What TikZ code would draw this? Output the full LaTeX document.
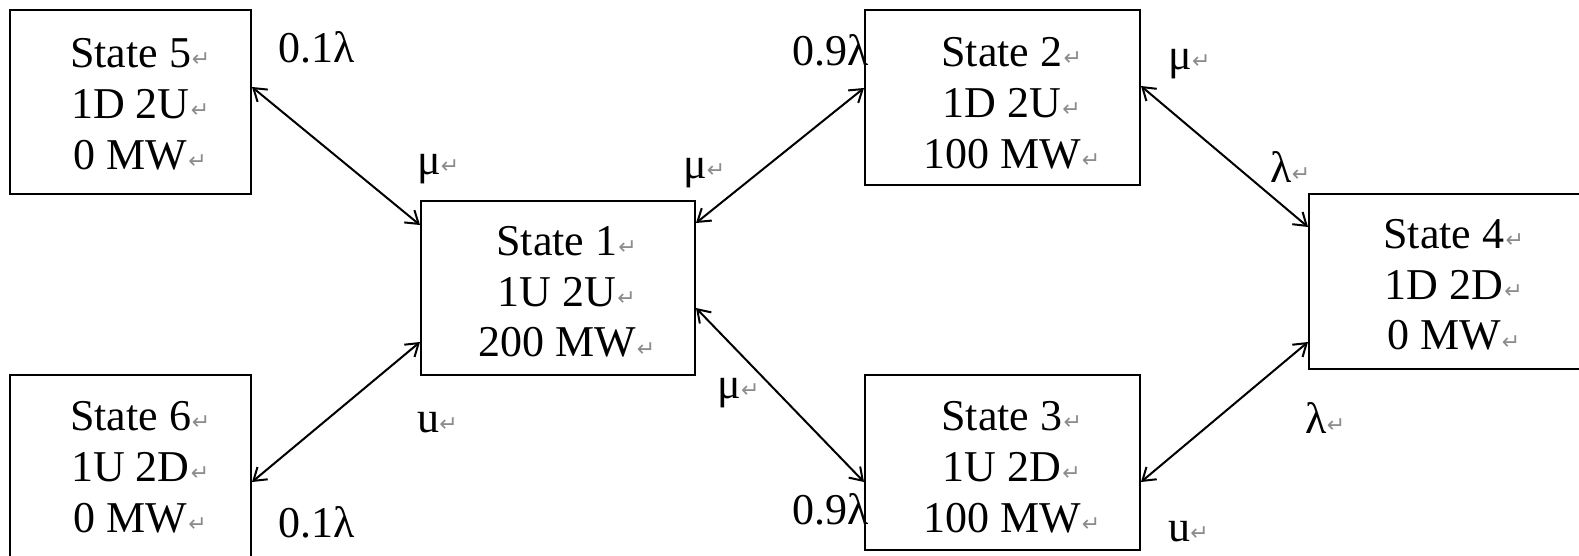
\documentclass[tikz,border=0pt]{standalone}
\usepackage{fontspec}
\setmainfont{Liberation Serif}
\newfontfamily\dvsans{DejaVu Sans}
\usetikzlibrary{arrows.meta}
\definecolor{retgray}{RGB}{140,140,140}
\newcommand\retm{{\dvsans\fontsize{11}{11}\selectfont\color{retgray}\raisebox{0.5pt}{↵}}}
\newcommand\lnm[1]{#1\rlap{\hspace{0.5pt}\retm}}
\newcommand\three[3]{\begin{tabular}[t]{@{}c@{}}\lnm{#1}\\\lnm{#2}\\\lnm{#3}\end{tabular}}
\tikzset{
  stbox/.style={draw, line width=1pt, inner sep=0pt, rectangle},
  sttext/.style={inner sep=0pt, anchor=base, font=\fontsize{22}{25.5}\selectfont},
  lbl/.style={inner sep=0pt, anchor=base west, font=\fontsize{22}{25.5}\selectfont},
  link/.style={line width=1pt, {Straight Barb[length=6pt,width=8pt]}-{Straight Barb[length=6pt,width=8pt]}}
}
\begin{document}
\begin{tikzpicture}[x=0.5pt,y=-0.5pt]
\useasboundingbox (0,0) rectangle (1579,556);
% boxes
\node[stbox, minimum width=120.5pt, minimum height=92pt] (s5) at (130.5,102) {};
\node[stbox, minimum width=137pt, minimum height=87pt] (s1) at (558,288) {};
\node[stbox, minimum width=137.5pt, minimum height=87.5pt] (s2) at (1002.5,97.5) {};
\node[stbox, minimum width=137.5pt, minimum height=87.5pt] (s3) at (1002.5,462.5) {};
\node[stbox, minimum width=136.5pt, minimum height=87.5pt] (s4) at (1445.5,281.5) {};
\node[stbox, minimum width=120.5pt, minimum height=92pt] (s6) at (130.5,467) {};
% texts
\node[sttext] (t5) at (130.5,68) {\three{State 5}{1D 2U}{0 MW}};
\node[sttext] (t1) at (557,255) {\three{State 1}{1U 2U}{200 MW}};
\node[sttext] (t2) at (1002,67) {\three{State 2}{1D 2U}{100 MW}};
\node[sttext] (t3) at (1002,430) {\three{State 3}{1U 2D}{100 MW}};
\node[sttext] (t4) at (1444,248) {\three{State 4}{1D 2D}{0 MW}};
\node[sttext] (t6) at (130.5,430) {\three{State 6}{1U 2D}{0 MW}};
% connectors
\draw[link] (s5.east |- 0,87) -- (s1.west |- 0,225);
\draw[link] (s6.east |- 0,482) -- (s1.west |- 0,342);
\draw[link] (s1.east |- 0,223) -- (s2.west |- 0,88);
\draw[link] (s1.east |- 0,308) -- (s3.west |- 0,482);
\draw[link] (s2.east |- 0,86) -- (s4.west |- 0,227);
\draw[link] (s3.east |- 0,482) -- (s4.west |- 0,342);
% labels
\node[lbl] (l1) at (278,63) {0.1λ};
\node[lbl] (l2) at (417,174) {μ\retm};
\node[lbl] (l3) at (792,66) {0.9λ};
\node[lbl] (l4) at (683,178) {μ\retm};
\node[lbl] (l5) at (1168,70) {μ\retm};
\node[lbl] (l6) at (1270,182) {λ\retm};
\node[lbl] (l7) at (717,398) {μ\retm};
\node[lbl] (l8) at (792,524) {0.9λ};
\node[lbl] (l9) at (417,432) {u\retm};
\node[lbl] (l10) at (278,537) {0.1λ};
\node[lbl] (l11) at (1305,433) {λ\retm};
\node[lbl] (l12) at (1168,541) {u\retm};
\end{tikzpicture}
\end{document}
